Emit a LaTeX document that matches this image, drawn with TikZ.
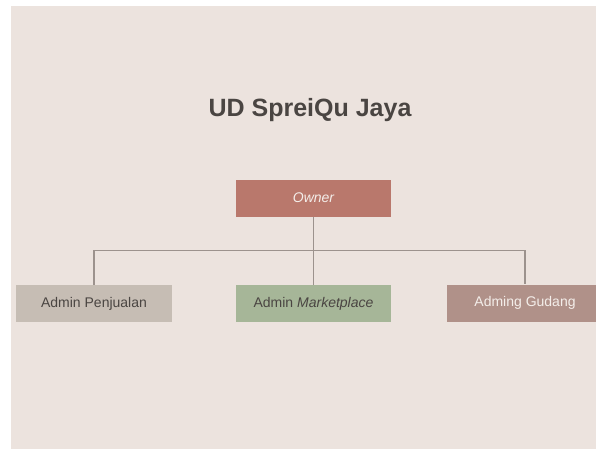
\documentclass[tikz,border=0pt]{standalone}
\usepackage{fontspec}
\setmainfont{Liberation Sans}
\definecolor{bgc}{HTML}{ECE3DE}
\definecolor{ownerc}{HTML}{B9786C}
\definecolor{penjc}{HTML}{C6BDB4}
\definecolor{mktc}{HTML}{A6B698}
\definecolor{gudc}{HTML}{B09189}
\definecolor{linec}{HTML}{9C928D}
\definecolor{darktxt}{HTML}{4A4542}
\definecolor{lighttxt}{HTML}{F4EEEA}
\begin{document}
\begin{tikzpicture}[x=1pt,y=-1pt,
  box/.style={draw=none,minimum height=37pt,inner sep=0pt,font=\fontsize{14}{16}\selectfont},
  conn/.style={draw=linec,line width=1.3pt}]
\useasboundingbox (0,0) rectangle (596,450);
\fill[white] (0,0) rectangle (596,450);
\fill[bgc] (11,6) rectangle (596,449);
\node[font=\bfseries\fontsize{25}{30}\selectfont,text=darktxt] (title) at (310,110.5) {UD SpreiQu Jaya};
\node[box,fill=ownerc,minimum width=155pt,minimum height=37pt,text=lighttxt] (owner) at (313.5,198) {\itshape Owner};
\node[box,fill=penjc,minimum width=156pt,text=darktxt] (penj) at (94,303.5) {Admin Penjualan};
\node[box,fill=mktc,minimum width=155pt,text=darktxt] (mkt) at (313.5,303.5) {Admin \textit{Marketplace}};
\node[box,fill=gudc,minimum width=156pt,text=lighttxt] (gud) at (525,303) {Adming Gudang};
\coordinate (bl) at (penj.north |- 0,250.5);
\coordinate (br) at (gud.north |- 0,250.5);
\draw[conn] (owner.south) -- (mkt.north);
\draw[conn] (penj.north) -- (bl) -- (br) -- (gud.north);
\end{tikzpicture}
\end{document}
